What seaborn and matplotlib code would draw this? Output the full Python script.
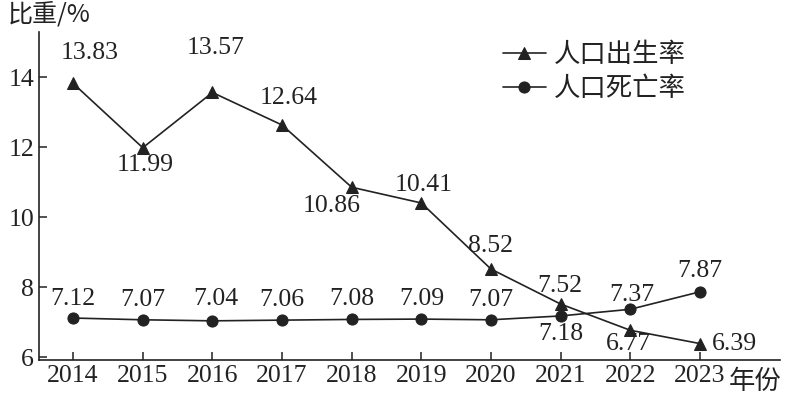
import matplotlib
matplotlib.use("Agg")
import matplotlib.pyplot as plt
import seaborn as sns
import pandas as pd

years = [2014, 2015, 2016, 2017, 2018, 2019, 2020, 2021, 2022, 2023]
birth_rate = [13.83, 11.99, 13.57, 12.64, 10.86, 10.41, 8.52, 7.52, 6.77, 6.39]
death_rate = [7.12, 7.07, 7.04, 7.06, 7.08, 7.09, 7.07, 7.18, 7.37, 7.87]
series_names = ["人口出生率", "人口死亡率"]
y_ticks = [6, 8, 10, 12, 14]

sns.set_theme(style="ticks")
plt.rcParams["font.family"] = ["Liberation Serif", "Noto Sans CJK SC"]
plt.rcParams["axes.linewidth"] = 1.2

df = pd.DataFrame({
    "year": years * 2,
    "value": birth_rate + death_rate,
    "series": [series_names[0]] * len(years) + [series_names[1]] * len(years),
})

fig = plt.figure(figsize=(7.85, 3.97), dpi=100)
ax = fig.add_axes([39 / 785, 1 - 360 / 397, (780 - 39) / 785, (360 - 32) / 397])

ink = "#222222"
sns.lineplot(data=df, x="year", y="value", hue="series", style="series",
             markers={series_names[0]: "^", series_names[1]: "o"},
             dashes=False, palette={series_names[0]: ink, series_names[1]: ink},
             markersize=8, linewidth=1.2, markeredgecolor=ink, ax=ax)

ax.set_xlim(2014 - 0.49, 2023 + 1.15)
ax.set_ylim(5.92, 15.3)
ax.set_xticks(years)
ax.set_yticks(y_ticks)
ax.tick_params(direction="in", length=6, width=1.1, labelsize=18.5, colors=ink)
for s in ["top", "right"]:
    ax.spines[s].set_visible(False)
for s in ["left", "bottom"]:
    ax.spines[s].set_color(ink)
ax.set_xlabel("")
ax.set_ylabel("")

# annotation offsets (pixels)
birth_off = [(17, 30), (2, -17), (3, 44), (7, 27), (-20, -19), (2, 18), (0, 23), (-1, 18), (-2, -14), (35, 0)]
death_off = [(0, 19), (0, 20), (3, 22), (0, 20), (0, 20), (0, 20), (0, 20), (0, -18), (2, 14), (0, 21)]
for i, y in enumerate(years):
    ax.annotate(f"{birth_rate[i]:.2f}", (y, birth_rate[i]), xytext=birth_off[i],
                textcoords="offset pixels", ha="center", va="center", fontsize=18.5, color=ink)
    ax.annotate(f"{death_rate[i]:.2f}", (y, death_rate[i]), xytext=death_off[i],
                textcoords="offset pixels", ha="center", va="center", fontsize=18.5, color=ink)

leg = ax.legend(loc="upper left", bbox_to_anchor=(498 / 785, 1 - 36 / 397),
                bbox_transform=fig.transFigure, frameon=False, borderaxespad=0,
                borderpad=0.2, handlelength=1.6, handletextpad=0.3, labelspacing=0.25,
                prop={"family": ["Noto Sans CJK SC"], "size": 19})
for t in leg.get_texts():
    t.set_color(ink)

fig.text(8 / 785, 1 - 15 / 397, "比重/%", fontsize=18, color=ink, va="center", ha="left",
         family=["Noto Sans CJK SC"])
fig.text(729 / 785, 1 - 381 / 397, "年份", fontsize=19, color=ink, va="center", ha="left",
         family=["Noto Sans CJK SC"])

fig.savefig("out.png", dpi=100, facecolor="white")
